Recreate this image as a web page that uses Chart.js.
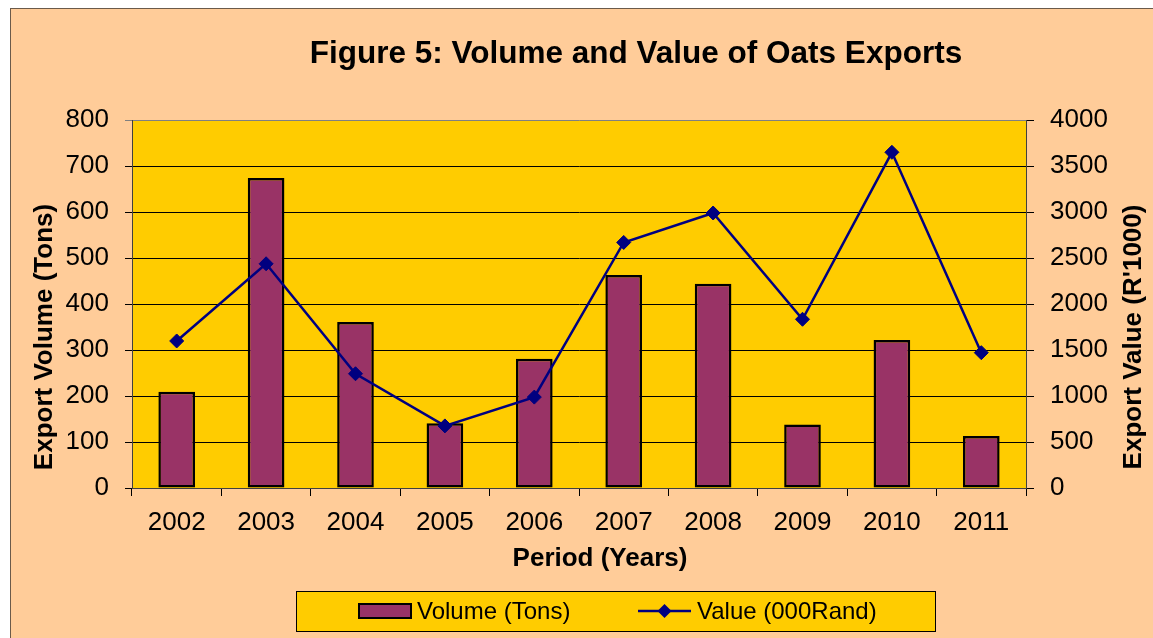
<!DOCTYPE html>
<html>
<head>
<meta charset="utf-8">
<script src="https://cdn.jsdelivr.net/npm/chart.js"></script>
<style>
  html, body { margin: 0; padding: 0; background: #ffffff; overflow: hidden; }
  #frame {
    position: absolute; left: 10px; top: 8px; width: 1200px; height: 700px;
    background: #FFCC99; border-left: 1px solid #6b5a4a; border-top: 1px solid #6b5a4a;
  }
  #chart { position: absolute; left: 0; top: 0; }
</style>
</head>
<body>
<div id="frame"></div>
<canvas id="chart" width="1153" height="638"></canvas>
<script>
// chart values
var years = ['2002', '2003', '2004', '2005', '2006', '2007', '2008', '2009', '2010', '2011'];
var volumeTons = [209, 674, 361, 141, 281, 463, 444, 138, 322, 113];
var valueRand = [1598, 2437, 1242, 675, 988, 2669, 2989, 1834, 3649, 1471];
var volumeTicks = [0, 100, 200, 300, 400, 500, 600, 700, 800];
var valueTicks = [0, 500, 1000, 1500, 2000, 2500, 3000, 3500, 4000];

var FONT = '"Liberation Sans", Arial, sans-serif';
Chart.defaults.font.family = FONT;
Chart.defaults.color = '#000';

// plain numbers on the value axes, no thousands separator
function plainTick(v) { return String(v); }

// gold plot area, titles and legend box (drawn by hand to match the figure)
var decorPlugin = {
    id: 'decor',
    beforeDraw: function(chart) {
        var a = chart.chartArea, ctx = chart.ctx;
        ctx.save();
        ctx.fillStyle = '#FFCC00';
        ctx.fillRect(a.left, a.top, a.right - a.left, a.bottom - a.top);
        ctx.restore();
    },
    afterDraw: function(chart) {
        var ctx = chart.ctx;
        var bar = chart.data.datasets[1], line = chart.data.datasets[0];
        ctx.save();
        ctx.fillStyle = '#000';

        // main title
        ctx.font = 'bold 31.5px ' + FONT;
        ctx.textAlign = 'center';
        ctx.textBaseline = 'alphabetic';
        ctx.fillText('Figure 5: Volume and Value of Oats Exports', 636, 63);

        // x axis title
        ctx.font = 'bold 26px ' + FONT;
        ctx.fillText('Period (Years)', 600, 566);

        // y axis titles, both read bottom to top
        ctx.save();
        ctx.translate(52, 337);
        ctx.rotate(-Math.PI / 2);
        ctx.fillText('Export Volume (Tons)', 0, 0);
        ctx.restore();
        ctx.save();
        ctx.translate(1141, 337);
        ctx.rotate(-Math.PI / 2);
        ctx.fillText("Export Value (R'1000)", 0, 0);
        ctx.restore();

        // legend
        ctx.fillStyle = '#FFCC00';
        ctx.fillRect(296, 591, 639, 40);
        ctx.strokeStyle = '#000';
        ctx.lineWidth = 1;
        ctx.strokeRect(296.5, 591.5, 639, 40);

        ctx.fillStyle = bar.backgroundColor;
        ctx.fillRect(359, 604, 52, 14);
        ctx.lineWidth = 2;
        ctx.strokeStyle = bar.borderColor;
        ctx.strokeRect(359, 604, 52, 14);

        ctx.strokeStyle = line.borderColor;
        ctx.lineWidth = line.borderWidth;
        ctx.beginPath();
        ctx.moveTo(638, 611);
        ctx.lineTo(691, 611);
        ctx.stroke();
        ctx.fillStyle = line.pointBackgroundColor;
        ctx.beginPath();
        ctx.moveTo(664.5, 604);
        ctx.lineTo(671.5, 611);
        ctx.lineTo(664.5, 618);
        ctx.lineTo(657.5, 611);
        ctx.closePath();
        ctx.fill();

        ctx.fillStyle = '#000';
        ctx.font = '24px ' + FONT;
        ctx.textAlign = 'left';
        ctx.textBaseline = 'middle';
        ctx.fillText(bar.label, 417, 612);
        ctx.fillText(line.label, 697, 612);
        ctx.restore();
    }
};

new Chart(document.getElementById('chart').getContext('2d'), {
    type: 'bar',
    data: {
        labels: years,
        datasets: [
            {
                type: 'line',
                label: 'Value (000Rand)',
                data: valueRand,
                yAxisID: 'y1',
                order: 0,
                borderColor: '#000080',
                borderWidth: 2.5,
                backgroundColor: '#000080',
                pointStyle: 'rectRot',
                pointRadius: 7,
                pointBackgroundColor: '#000080',
                pointBorderColor: '#000080',
                pointBorderWidth: 1,
                tension: 0,
                fill: false
            },
            {
                type: 'bar',
                label: 'Volume (Tons)',
                data: volumeTons,
                yAxisID: 'y',
                order: 1,
                backgroundColor: '#993366',
                borderColor: '#000000',
                borderWidth: 2.5,
                borderSkipped: false,
                barPercentage: 0.41,
                categoryPercentage: 1
            }
        ]
    },
    options: {
        responsive: false,
        animation: false,
        devicePixelRatio: 1,
        layout: { padding: { top: 120, bottom: 60, left: 0, right: 0 } },
        plugins: {
            legend: { display: false },
            title: { display: false },
            tooltip: { enabled: false }
        },
        scales: {
            x: {
                grid: { offset: true, drawOnChartArea: false, color: '#000', tickLength: 8 },
                border: { color: '#404040' },
                ticks: { font: { size: 26 }, color: '#000', padding: 11 },
                afterFit: function(s) { s.height = 90; }
            },
            y: {
                position: 'left',
                min: volumeTicks[0],
                max: volumeTicks[volumeTicks.length - 1],
                ticks: { stepSize: volumeTicks[1] - volumeTicks[0], font: { size: 26 }, color: '#000', padding: 16, callback: plainTick },
                grid: {
                    color: function(c) { return c.tick && c.tick.value === 800 ? '#808080' : '#000'; },
                    tickLength: 7
                },
                border: { color: '#404040' },
                afterFit: function(s) { s.width = 132; }
            },
            y1: {
                position: 'right',
                min: valueTicks[0],
                max: valueTicks[valueTicks.length - 1],
                ticks: { stepSize: valueTicks[1] - valueTicks[0], font: { size: 26 }, color: '#000', padding: 16, callback: plainTick },
                grid: { drawOnChartArea: false, color: '#000', tickLength: 8 },
                border: { color: '#404040' },
                afterFit: function(s) { s.width = 127; }
            }
        }
    },
    plugins: [decorPlugin]
});
</script>
</body>
</html>
